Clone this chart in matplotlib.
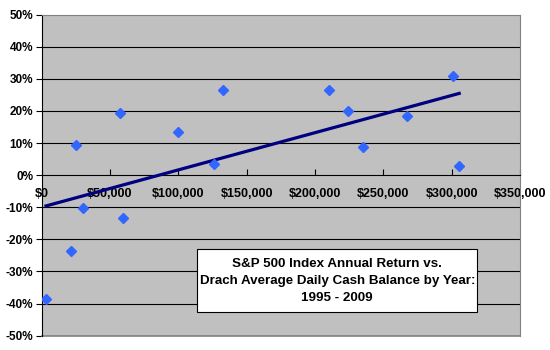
import numpy as np
import matplotlib.pyplot as plt
from matplotlib.patches import Rectangle
from matplotlib.ticker import FuncFormatter

plt.rcParams['font.family'] = ['Liberation Sans', 'DejaVu Sans']

# average daily cash balance ($) and S&P 500 annual return (%)
cash_balance = [3150, 21200, 25100, 30000, 57300, 59700, 100000, 126300,
                132500, 210100, 224400, 235000, 267400, 300900, 305500]
sp_return = [-38.5, -23.5, 9.3, -10.2, 19.4, -13.3, 13.5, 3.4,
             26.4, 26.4, 20.0, 8.8, 18.5, 31.0, 2.9]

x = np.array(cash_balance)
y = np.array(sp_return)

fig = plt.figure(figsize=(5.5, 3.5), dpi=100)
ax = fig.add_axes([0.0758, 0.041, 0.8697, 0.917])
ax.set_facecolor('#C0C0C0')

ax.set_xlim(0, 350000)
ax.set_ylim(-50, 50)

for g in range(-40, 50, 10):
    if g != 0:
        ax.axhline(g, color='black', lw=0.8, zorder=1)

# trendline
slope, icpt = np.polyfit(x, y, 1)
xt = np.array([x.min(), x.max()])
ax.plot(xt, slope * xt + icpt, color='#000080', lw=2.3, zorder=3)

ax.plot(x, y, 'D', color='#3366FF', ms=5.5, mec='#3366FF', zorder=4)

ax.spines['left'].set_color('black')
ax.spines['bottom'].set_position(('data', 0))
ax.spines['bottom'].set_color('black')
ax.spines['top'].set_color('#808080')
ax.spines['right'].set_color('#808080')
ax.plot([0, 1], [0, 0], transform=ax.transAxes, color='#808080', lw=1.2, clip_on=False)

ax.set_yticks(range(-50, 60, 10))
ax.yaxis.set_major_formatter(FuncFormatter(lambda v, p: f'{int(v)}%'))
ax.set_xticks(range(0, 350001, 50000))
ax.xaxis.set_major_formatter(FuncFormatter(lambda v, p: f'${int(v):,}'))
ax.tick_params(axis='x', direction='in', length=4, width=0.8, pad=9)
ax.tick_params(axis='y', direction='out', length=4, width=0.8, pad=2)
for lab in ax.get_xticklabels():
    lab.set_fontsize(9)
    lab.set_fontweight('bold')
for lab in ax.get_yticklabels():
    lab.set_fontsize(8.5)
    lab.set_fontweight('bold')

ax.add_patch(Rectangle((0.3253, 0.0729), 0.5854, 0.1961, transform=ax.transAxes,
                       fc='white', ec='black', lw=0.8, zorder=5))
ax.text(0.618, 0.171,
        'S&P 500 Index Annual Return vs.\nDrach Average Daily Cash Balance by Year:\n1995 - 2009',
        transform=ax.transAxes, ha='center', va='center', fontsize=9.6,
        fontweight='bold', linespacing=1.55, zorder=6)

fig.savefig('out.png', dpi=100)
